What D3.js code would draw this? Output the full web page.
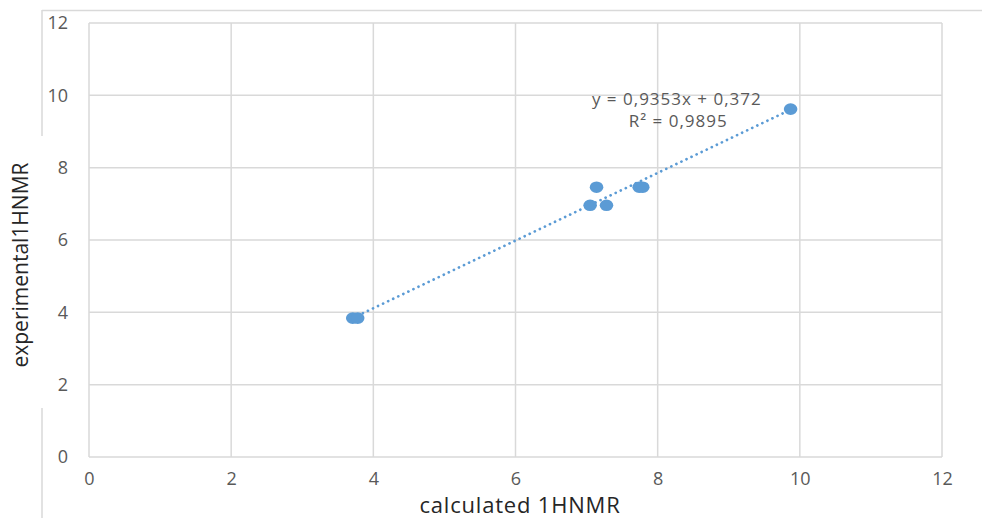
<!DOCTYPE html>
<html>
<head>
<meta charset="utf-8">
<script src="https://cdn.jsdelivr.net/npm/d3@7"></script>
<style>
  body { margin: 0; background: #fff; }
  text { font-family: "Open Sans", "Noto Sans", sans-serif; }
</style>
</head>
<body>
<svg id="chart" width="982" height="518"></svg>
<script>
// data
var calcX = [3.71, 3.78, 7.05, 7.14, 7.28, 7.74, 7.79, 9.87];
var expY  = [3.84, 3.84, 6.96, 7.46, 6.96, 7.46, 7.46, 9.62];
var ticks = [0, 2, 4, 6, 8, 10, 12];
var slope = 0.9353, intercept = 0.372;
var eqLabel = "y = 0,9353x + 0,372";
var r2Label = "R² = 0,9895";

var svg = d3.select("#chart");
var margin = {left: 89, top: 23, right: 40, bottom: 61};
var width = 982 - margin.left - margin.right,
    height = 518 - margin.top - margin.bottom;

// outer frame bits (broken around y title)
svg.append("line").attr("x1", 42).attr("x2", 982).attr("y1", 10.5).attr("y2", 10.5)
  .attr("stroke", "#d9d9d9").attr("stroke-width", 1.5);
svg.append("line").attr("x1", 42).attr("x2", 42).attr("y1", 10).attr("y2", 136)
  .attr("stroke", "#d9d9d9").attr("stroke-width", 1.5);
svg.append("line").attr("x1", 42).attr("x2", 42).attr("y1", 408).attr("y2", 518)
  .attr("stroke", "#d9d9d9").attr("stroke-width", 1.5);

var g = svg.append("g").attr("transform", "translate(" + margin.left + "," + margin.top + ")");

var x = d3.scaleLinear().domain([0, 12]).range([0, width]);
var y = d3.scaleLinear().domain([0, 12]).range([height, 0]);

// grid
g.selectAll("line.gx").data(ticks).enter().append("line")
  .attr("class", "gx")
  .attr("x1", function(d) { return x(d); }).attr("x2", function(d) { return x(d); })
  .attr("y1", 0).attr("y2", height)
  .attr("stroke", "#d9d9d9").attr("stroke-width", 1.5);
g.selectAll("line.gy").data(ticks).enter().append("line")
  .attr("class", "gy")
  .attr("x1", 0).attr("x2", width)
  .attr("y1", function(d) { return y(d); }).attr("y2", function(d) { return y(d); })
  .attr("stroke", "#d9d9d9").attr("stroke-width", 1.5);

// axes labels via d3 axis, lines hidden
var xAxis = g.append("g").attr("transform", "translate(0," + height + ")")
  .call(d3.axisBottom(x).tickValues(ticks).tickSize(0).tickPadding(15));
var yAxis = g.append("g")
  .call(d3.axisLeft(y).tickValues(ticks).tickSize(0).tickPadding(21));
[xAxis, yAxis].forEach(function(a) {
  a.select(".domain").remove();
  a.selectAll("text").attr("fill", "#595959").style("font-size", "18px")
    .style("font-family", "'Open Sans', sans-serif");
});

// trendline
var xmin = d3.min(calcX), xmax = d3.max(calcX);
g.append("line")
  .attr("x1", x(xmin)).attr("y1", y(slope * xmin + intercept))
  .attr("x2", x(xmax)).attr("y2", y(slope * xmax + intercept))
  .attr("stroke", "#5b9bd5").attr("stroke-width", 2.7)
  .attr("stroke-dasharray", "0.1 5.5").attr("stroke-linecap", "round");

// points
g.selectAll("ellipse.pt").data(calcX).enter().append("ellipse")
  .attr("class", "pt")
  .attr("cx", function(d) { return x(d); })
  .attr("cy", function(d, i) { return y(expY[i]); })
  .attr("rx", 6.8).attr("ry", 5.8)
  .attr("fill", "#5b9bd5");

// equation
g.append("text").attr("x", x(8.27)).attr("y", y(9.73)).attr("text-anchor", "middle")
  .attr("fill", "#595959").style("font-size", "17px").style("letter-spacing", "1px").text(eqLabel);
g.append("text").attr("x", x(8.29)).attr("y", y(9.12)).attr("text-anchor", "middle")
  .attr("fill", "#595959").style("font-size", "17px").style("letter-spacing", "1px").text(r2Label);

// titles
svg.append("text").attr("x", 520).attr("y", 513).attr("text-anchor", "middle")
  .attr("fill", "#262626").style("font-size", "22px").style("letter-spacing", "0.8px").text("calculated 1HNMR");
svg.append("text").attr("transform", "translate(28,265) rotate(-90)").attr("text-anchor", "middle")
  .attr("fill", "#262626").style("font-size", "21px").text("experimental1HNMR");
</script>
</body>
</html>
